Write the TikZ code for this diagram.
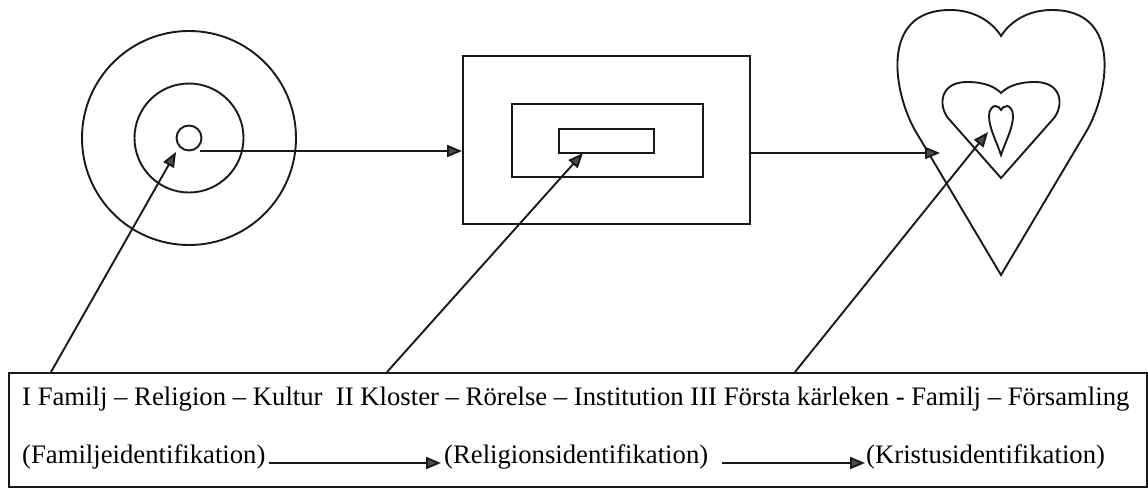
\documentclass[tikz,border=0pt]{standalone}
\usepackage{fontspec}
\setmainfont{Liberation Serif}
\usetikzlibrary{arrows.meta}
\begin{document}
\begin{tikzpicture}[x=1pt,y=-1pt,
  ln/.style={line width=1.9pt, black!90},
  arr/.style={ln, -{Triangle[length=15pt,width=12pt,fill=black!70]}},
  ring/.style={ln, draw, circle, inner sep=0pt},
  box/.style={ln, draw, rectangle, inner sep=0pt},
  txt/.style={inner sep=0pt, anchor=base west, font=\fontsize{26.7}{30}\selectfont}]
\useasboundingbox (0,0) rectangle (1148,488);
% circles
\node[ring, minimum size=214] (c2) at (189,138) {};
\node[ring, minimum size=109] (c1) at (189,138) {};
\node[ring, minimum size=25] (c0) at (189,138) {};
% rectangles
\node[box, minimum width=287, minimum height=168] (r2) at (606.5,140) {};
\node[box, minimum width=191, minimum height=73] (r1) at (607.5,140.5) {};
\node[box, minimum width=95, minimum height=24] (r0) at (606.5,141) {};
% hearts
\draw[ln] (1001,275) -- (916,132) .. controls (894,95) and (878,10) .. (950,10)
  .. controls (975,10) and (992,22) .. (1001,36)
  .. controls (1010,22) and (1027,10) .. (1052,10)
  .. controls (1124,10) and (1108,95) .. (1086,132) -- cycle;
\draw[ln] (1001,178) -- (948,118) .. controls (938,105) and (940,82) .. (967,82)
  .. controls (985,82) and (995,87) .. (1001,93)
  .. controls (1007,87) and (1017,82) .. (1035,82)
  .. controls (1062,82) and (1064,105) .. (1054,118) -- cycle;
\draw[ln] (1001,155) .. controls (996,140) and (989,128) .. (989,116)
  .. controls (989,109) and (993,106) .. (995,106)
  .. controls (998,106) and (1000,108) .. (1001,110)
  .. controls (1002,108) and (1004,106) .. (1007,106)
  .. controls (1009,106) and (1013,109) .. (1013,116)
  .. controls (1013,128) and (1006,140) .. (1001,155) -- cycle;
% horizontal connectors
\coordinate (s1) at (200,151);
\draw[arr] (s1) -- (s1 -| r2.west);
\coordinate (s2) at (r2.east |- 0,153);
\coordinate (e2) at (940,153);
\draw[arr] (s2) -- (e2);
% bottom box
\node[box, anchor=north west, minimum width=1138, minimum height=114] (bx) at (8,372) {};
\coordinate (a1) at (51,372);
\coordinate (a2) at (387,372);
\coordinate (a3) at (795,372);
\coordinate (t1) at (176,152);
\coordinate (t2) at (583,153);
\coordinate (t3) at (988,132);
\draw[arr] (a1) -- (t1);
\draw[arr] (a2) -- (t2);
\draw[arr] (a3) -- (t3);
% texts
\node[txt] (l1) at (22,405) {I Familj – Religion – Kultur\ \ II Kloster – Rörelse – Institution III Första kärleken - Familj – Församling};
\node[txt] (f1) at (22,463) {(Familjeidentifikation)};
\node[txt] (f2) at (444,463) {(Religionsidentifikation)};
\node[txt] (f3) at (866,463) {(Kristusidentifikation)};
\draw[arr] ([xshift=3pt]f1.base east) -- ([xshift=-3pt]f2.base west);
\draw[arr] ([xshift=14pt]f2.base east) -- ([xshift=-1pt]f3.base west);
\end{tikzpicture}
\end{document}
